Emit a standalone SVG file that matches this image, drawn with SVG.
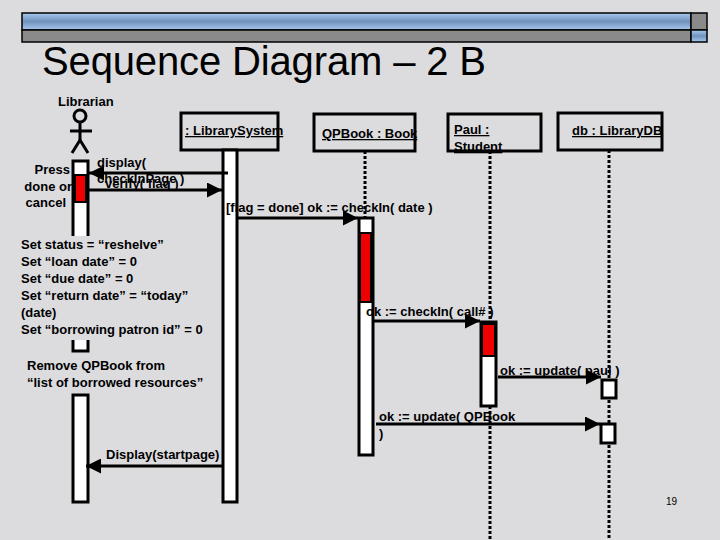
<svg xmlns="http://www.w3.org/2000/svg" width="720" height="540" viewBox="0 0 720 540">
<defs>
<linearGradient id="bl" x1="0" y1="0" x2="0" y2="1"><stop offset="0" stop-color="#a8c8ee"/><stop offset="0.5" stop-color="#6f93bd"/><stop offset="1" stop-color="#a8c8ee"/></linearGradient>
<marker id="a" viewBox="0 0 10 10" refX="10" refY="5" markerWidth="5" markerHeight="5" orient="auto" markerUnits="strokeWidth"><path d="M0,0L10,5L0,10z" fill="#000"/></marker>
<style>
.t{font-family:"Liberation Sans",Arial,sans-serif;font-size:13px;font-weight:bold;fill:#000}
.bx{fill:none;stroke:#000;stroke-width:3}
.act{fill:#fff;stroke:#000;stroke-width:3}
.red{fill:#e00;stroke:#000;stroke-width:2}
.ll{stroke:#000;stroke-width:3;stroke-dasharray:3,2}
.m{stroke:#000;stroke-width:3;fill:none;marker-end:url(#a)}
</style>
</defs>
<rect width="720" height="540" fill="#dcdcdf"/>
<rect x="22" y="13" width="669" height="17" fill="url(#bl)" stroke="#000" stroke-width="1.5"/>
<rect x="22" y="30" width="669" height="12" fill="#8a8a8a" stroke="#000" stroke-width="1.5"/>
<rect x="691" y="13" width="16" height="17" fill="#8a8a8a" stroke="#000" stroke-width="1.5"/>
<rect x="691" y="30" width="16" height="12" fill="url(#bl)" stroke="#000" stroke-width="1.5"/>
<text x="42" y="75" font-family="Liberation Sans,Arial,sans-serif" font-size="40" textLength="444" fill="#000">Sequence Diagram – 2 B</text>

<g id="librarian">
<text class="t" x="58" y="106">Librarian</text>
<circle cx="80" cy="116" r="6" fill="none" stroke="#000" stroke-width="3"/>
<line x1="80" y1="122" x2="80" y2="140" stroke="#000" stroke-width="3"/>
<line x1="70" y1="131" x2="92" y2="131" stroke="#000" stroke-width="3"/>
<path d="M72,153L80,140L88,153" fill="none" stroke="#000" stroke-width="3"/>
<rect class="act" x="73" y="161" width="15" height="190"/>
<rect class="act" x="73" y="395" width="15" height="107"/>
<rect class="red" x="75" y="175" width="11" height="27"/>
</g>
<g id="librarysystem">
<rect class="bx" x="181" y="113" width="97" height="37"/>
<text class="t" x="185" y="135" text-decoration="underline">: LibrarySystem</text>
<rect class="act" x="223" y="150" width="14" height="352"/>
</g>
<g id="qpbook">
<rect class="bx" x="314" y="114" width="101" height="37"/>
<text class="t" x="322" y="138" text-decoration="underline">QPBook : Book</text>
<line class="ll" x1="365" y1="151" x2="365" y2="218"/>
<rect class="act" x="359" y="218" width="14" height="237"/>
<rect class="red" x="360" y="233" width="11" height="69"/>
</g>
<g id="paul">
<rect class="bx" x="448" y="114" width="93" height="37"/>
<text class="t" x="454" y="134" text-decoration="underline">Paul :</text>
<text class="t" x="454" y="151" text-decoration="underline">Student</text>
<line class="ll" x1="490" y1="151" x2="490" y2="540"/>
<rect class="act" x="481" y="322" width="15" height="84"/>
<rect class="red" x="482" y="324" width="13" height="32"/>
</g>
<g id="db">
<rect class="bx" x="558" y="113" width="104" height="37"/>
<text class="t" x="572" y="135" text-decoration="underline">db : LibraryDB</text>
<line class="ll" x1="609" y1="150" x2="609" y2="540"/>
<rect class="act" x="602" y="380" width="14" height="18"/>
<rect class="act" x="601" y="424" width="14" height="19"/>
</g>

<g id="connectors">
<line class="m" x1="228" y1="173" x2="89" y2="173"/>
<line class="m" x1="89" y1="190" x2="222" y2="190"/>
<line class="m" x1="237" y1="218" x2="358" y2="218"/>
<line class="m" x1="373" y1="321" x2="480" y2="321"/>
<line class="m" x1="498" y1="377" x2="601" y2="377"/>
<line class="m" x1="376" y1="424" x2="600" y2="424"/>
<line class="m" x1="223" y1="466" x2="86" y2="466"/>
</g>

<g id="labels">
<text class="t" x="97" y="167">display(</text>
<text class="t" x="97" y="183">checkInPage )</text>
<text class="t" x="105" y="188">verify( flag )</text>
<text class="t" x="226" y="212">[flag = done] ok := checkIn( date )</text>
<text class="t" x="366" y="316">ok := checkIn( call# )</text>
<text class="t" x="500" y="375">ok := update( paul )</text>
<text class="t" x="379" y="421">ok := update( QPBook</text>
<text class="t" x="379" y="438">)</text>
<text class="t" x="106" y="459">Display(startpage)</text>
<text class="t" x="70" y="174" text-anchor="end">Press</text>
<text class="t" x="72" y="191" text-anchor="end">done or</text>
<text class="t" x="66" y="207" text-anchor="end">cancel</text>
<rect x="20" y="236" width="200" height="104" fill="#dcdcdf"/>
<text class="t" x="21" y="249">Set status = “reshelve”</text>
<text class="t" x="21" y="266">Set “loan date” = 0</text>
<text class="t" x="21" y="283">Set “due date” = 0</text>
<text class="t" x="21" y="300">Set “return date” = “today”</text>
<text class="t" x="21" y="317">(date)</text>
<text class="t" x="21" y="334">Set “borrowing patron id” = 0</text>
<text class="t" x="27" y="370">Remove QPBook from</text>
<text class="t" x="27" y="387">“list of borrowed resources”</text>
<text x="666" y="505" font-family="Liberation Sans,Arial,sans-serif" font-size="10" fill="#000">19</text>
</g>
</svg>
